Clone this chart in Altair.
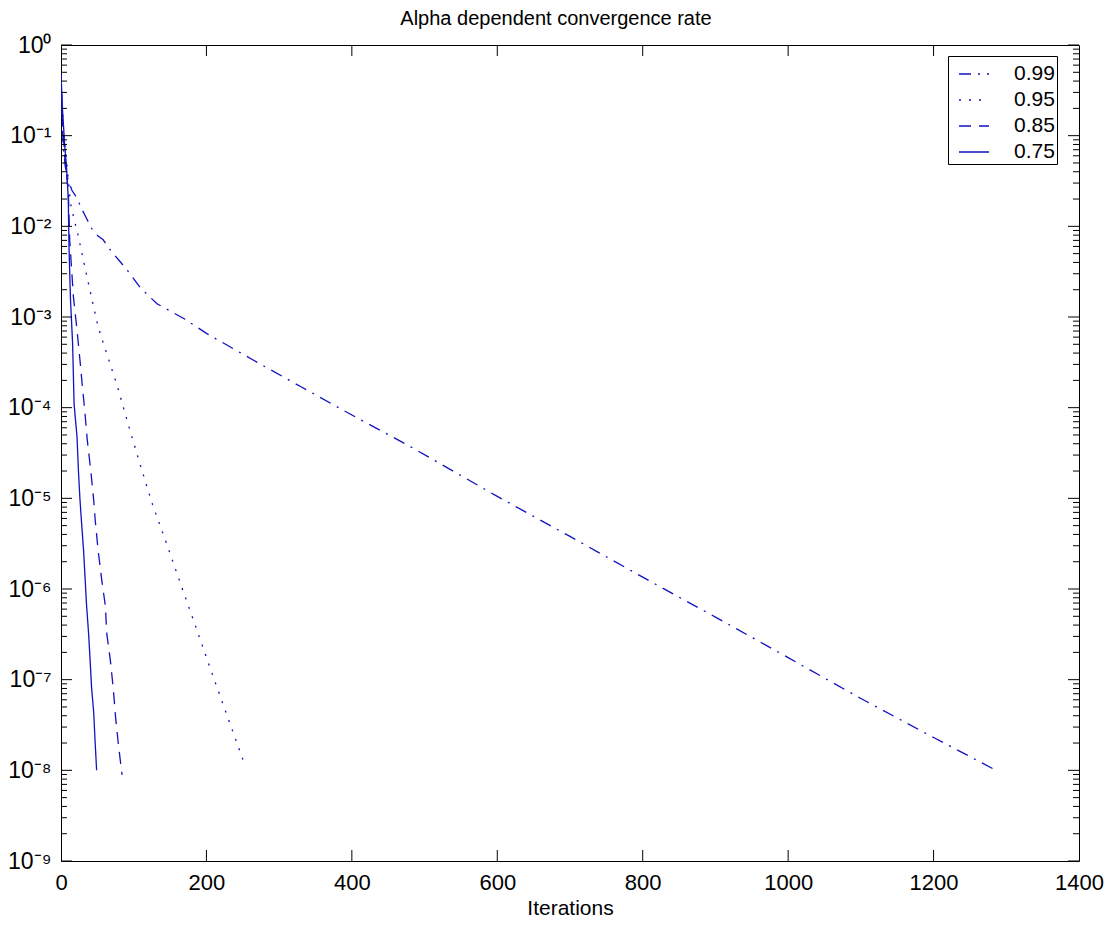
import altair as alt
import pandas as pd

alphas = ["0.99", "0.95", "0.85", "0.75"]

it_99 = [0, 1, 3, 6, 10, 15, 22, 28, 35, 42, 51, 58, 70, 80, 95, 109, 132, 170, 200,
         263, 330, 400, 481, 600, 700, 800, 900, 1000, 1100, 1200, 1286]
val_99 = [0.47, 0.2, 0.08, 0.045, 0.032, 0.025, 0.0204, 0.0158, 0.0123, 0.0095, 0.0078,
          0.0071, 0.0052, 0.0042, 0.0030, 0.0021, 0.0014, 0.00095, 0.00066, 0.00034,
          0.00017, 8.3e-5, 3.7e-5, 1.05e-5, 3.8e-6, 1.35e-6, 4.9e-7, 1.75e-7, 6.2e-8,
          2.3e-8, 1.0e-8]

it_95 = [0, 2, 4, 8, 13, 18, 23, 37, 51, 64, 77, 97, 110, 126, 145, 164, 185, 205, 230, 251]
val_95 = [0.47, 0.2, 0.1, 0.05, 0.018, 0.012, 0.0083, 0.0025, 0.00078, 0.00037, 0.000178,
          4.9e-5, 2.2e-5, 8.5e-6, 3.2e-6, 1.17e-6, 3.9e-7, 1.35e-7, 3.7e-8, 1.26e-8]

it_85 = [0, 2, 5, 8, 10, 12, 17, 22, 26, 29, 33, 36, 41, 45, 47, 51, 56, 61, 63, 68, 72,
         75, 79, 84]
val_85 = [0.47, 0.15, 0.06, 0.035, 0.025, 0.007, 0.0017, 0.00072, 0.00034, 0.000186,
          8.7e-5, 4.5e-5, 2.0e-5, 9.5e-6, 5.8e-6, 2.7e-6, 1.26e-6, 6.5e-7, 3.2e-7, 1.6e-7,
          7.8e-8, 3.9e-8, 1.9e-8, 8.9e-9]

it_75 = [0, 2, 5, 8, 10, 11, 13, 16, 18, 22, 24, 26, 28, 31, 33, 35, 38, 40, 42, 45, 47, 49]
val_75 = [0.47, 0.2, 0.08, 0.04, 0.02, 0.006, 0.0016, 0.0005, 0.00011, 4.8e-5, 2.0e-5,
          1.0e-5, 5.8e-6, 2.7e-6, 1.38e-6, 6.9e-7, 3.2e-7, 1.66e-7, 8.3e-8, 4.3e-8,
          2.0e-8, 1.0e-8]

x_tick_values = [0, 200, 400, 600, 800, 1000, 1200, 1400]
x_inner_ticks = [200, 400, 600, 800, 1000, 1200]
y_major = [1e-9, 1e-8, 1e-7, 1e-6, 1e-5, 1e-4, 1e-3, 1e-2, 1e-1, 1e0]
y_minor = [m * 10.0 ** e for e in range(-9, 0) for m in range(2, 10)]

dashes = [[12, 7, 2, 7], [2, 8], [12, 8], [1, 0]]
BLUE = "#1212c0"
W, H = 1018, 816
FONT = "Liberation Sans"

rows = []
for a, its, vals in zip(alphas, [it_99, it_95, it_85, it_75], [val_99, val_95, val_85, val_75]):
    for i, v in zip(its, vals):
        rows.append({"alpha": a, "iter": i, "val": v})
df = pd.DataFrame(rows)

xscale = alt.Scale(domain=[0, 1400], nice=False, zero=False)
yscale = alt.Scale(type="log", domain=[1e-9, 1], nice=False)

sup = "['\u2070','\u00b9','\u00b2','\u00b3','\u2074','\u2075','\u2076','\u2077','\u2078','\u2079']"
ylabel_expr = ("'10' + (datum.value < 0.5 ? '\u207b' : '') + " + sup +
               "[round(abs(log(datum.value)/LN10))]")

xaxis = alt.Axis(values=x_tick_values, format="d", title="Iterations", ticks=False,
                 domain=False, grid=False, labelPadding=11, titlePadding=4,
                 labelFlush=False, labelFontSize=22, titleFontSize=21, labelFont=FONT,
                 titleFont=FONT, titleFontWeight="normal",
                 labelColor="black", titleColor="black")
yaxis = alt.Axis(values=y_major, labelExpr=ylabel_expr, title=None, ticks=False,
                 domain=False, grid=False, labelPadding=10, labelFontSize=23,
                 labelFlush=False, labelFont=FONT, labelColor="black")

lines = alt.Chart(df).mark_line(color=BLUE, strokeWidth=1.3, clip=True).encode(
    x=alt.X("iter:Q", scale=xscale, axis=xaxis),
    y=alt.Y("val:Q", scale=yscale, axis=yaxis),
    strokeDash=alt.StrokeDash(
        "alpha:N",
        scale=alt.Scale(domain=alphas, range=dashes),
        legend=alt.Legend(title=None, orient="none", legendX=887, legendY=11,
                          strokeColor="black", fillColor="white", padding=2,
                          symbolType="stroke", symbolSize=900, symbolStrokeWidth=1.3,
                          symbolOffset=8, labelExpr="datum.label + '  '",
                          symbolStrokeColor=BLUE, labelFontSize=21, labelFont=FONT,
                          labelColor="black", labelOffset=24, rowPadding=0,
                          cornerRadius=0)),
    order="iter:Q",
)

xt = pd.DataFrame({"iter": x_inner_ticks})
ymj = pd.DataFrame({"val": y_major})
ymn = pd.DataFrame({"val": y_minor})

def xrule(y0, y1):
    return alt.Chart(xt).mark_rule(color="black", strokeWidth=1).encode(
        x=alt.X("iter:Q", scale=xscale, axis=xaxis), y=alt.value(y0), y2=alt.value(y1))

def yrule(data, x0, x1):
    return alt.Chart(data).mark_rule(color="black", strokeWidth=1).encode(
        y=alt.Y("val:Q", scale=yscale, axis=yaxis), x=alt.value(x0), x2=alt.value(x1))

ticks = [
    xrule(H, H - 11), xrule(0, 11),
    yrule(ymj, 0, 11), yrule(ymn, 0, 6),
    yrule(ymj, W, W - 11), yrule(ymn, W, W - 6),
]

chart = alt.layer(lines, *ticks).properties(
    width=W, height=H,
    title=alt.TitleParams("Alpha dependent convergence rate", fontSize=20, font=FONT,
                          fontWeight="normal", color="black", offset=5, dx=-14),
    autosize=alt.AutoSizeParams(type="none"),
    padding={"left": 53, "top": 37, "right": 26, "bottom": 70},
).configure(background="white").configure_view(stroke="black", strokeWidth=1)

chart.save("out.html", embed_options={"renderer": "svg", "actions": False})
